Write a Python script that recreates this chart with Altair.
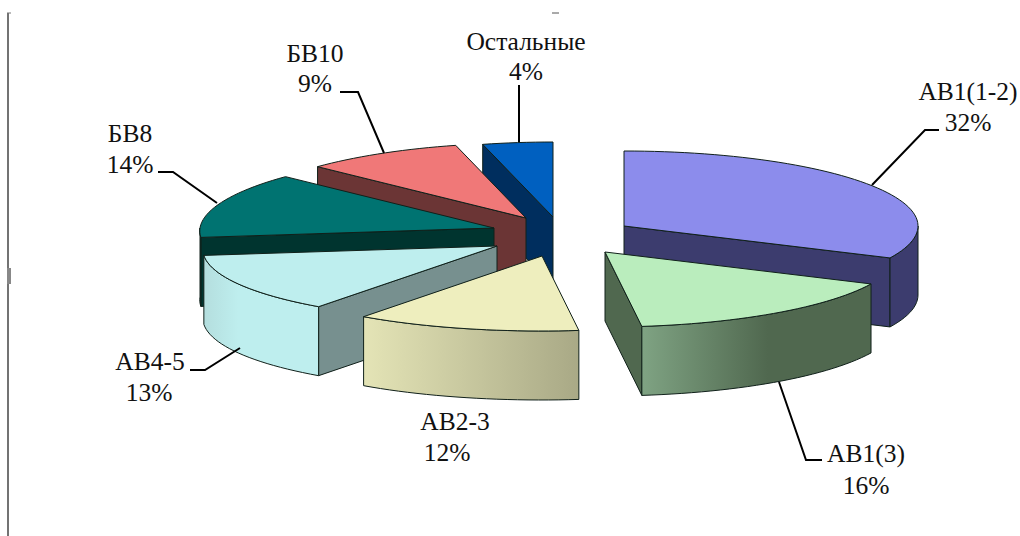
import math
import altair as alt
import pandas as pd

# Field shares, clockwise from twelve o'clock
names = ["АВ1(1-2)", "АВ1(3)", "АВ2-3", "АВ4-5", "БВ8", "БВ10", "Остальные"]
shares = [32, 16, 12, 13, 14, 9, 4]

# Exploded slice apexes on the canvas
apex_x = [624, 605, 542, 497, 494, 526, 553]
apex_y = [226, 252, 256, 246, 228, 218, 217]

top_colors = ["#8C8CEC", "#BAEDBD", "#EEEEBE", "#BEEEEE", "#007371", "#F07878", "#0060C0"]
wall_colors = ["#3C3C6E", "#50684F", "#ACAC88", "#77908F", "#00342F", "#6B3535", "#002E5E"]
rim_stops = [
    [("#3C3C6E", 0), ("#3C3C6E", 1)],
    [("#7FA383", 0), ("#50684F", 0.55), ("#50684F", 1)],
    [("#E4E4B6", 0), ("#A9A986", 1)],
    [("#B4DEDE", 0), ("#BEEEEE", 0.3), ("#BEEEEE", 1)],
    [("#00342F", 0), ("#00342F", 1)],
    [("#6B3535", 0), ("#6B3535", 1)],
    [("#002E5E", 0), ("#002E5E", 1)],
]

RX, RY, DEPTH, PERSPECTIVE = 294, 75, 69, 0.04

label_x = [968, 866, 455, 150, 130, 315, 526]
label_y = [92, 454, 422, 362, 134, 54, 42]
pct_x = [968, 866, 447, 149, 130, 315, 526]
pct_y = [123, 486, 453, 393, 165, 84, 72]

leaders = [
    [(872, 185), (925, 130), (939, 130)],
    [(779, 382), (806, 460), (822, 460)],
    [],
    [(240, 348), (205, 370), (190, 370)],
    [(217, 203), (173, 172), (158, 172)],
    [(384, 153), (358, 92), (340, 92)],
    [(519, 142), (519, 85)],
]

W, H = 1020, 536
x_enc = alt.X("x:Q", scale=alt.Scale(domain=[0, W], nice=False, zero=False), axis=None)
y_enc = alt.Y("y:Q", scale=alt.Scale(domain=[H, 0], nice=False, zero=False), axis=None)


def rim_point(cx, cy, deg):
    t = math.radians(deg)
    # only the left half of the disc is foreshortened by the viewpoint
    f = 1 - PERSPECTIVE * math.cos(t) if math.sin(t) < 0 else 1
    return cx + RX * f * math.sin(t), cy - RY * math.cos(t)


def arc(cx, cy, a, b):
    n = max(2, int(abs(b - a) / 2) + 2)
    return [rim_point(cx, cy, a + (b - a) * i / (n - 1)) for i in range(n)]


def shape(points, fill, stroke="#10201A", width=1.0):
    pts = list(points) + [points[0]]
    df = pd.DataFrame({"x": [p[0] for p in pts], "y": [p[1] for p in pts], "i": range(len(pts))})
    return (
        alt.Chart(df)
        .mark_line(fill=fill, stroke=stroke, strokeWidth=width, strokeJoin="round", opacity=1)
        .encode(x=x_enc, y=y_enc, order="i:Q")
    )


def gradient(stops):
    return alt.LinearGradient(
        gradient="linear",
        x1=0, x2=1, y1=0, y2=0,
        stops=[alt.GradientStop(color=c, offset=o) for c, o in stops],
    )


def slice_layers(k, a, b):
    cx, cy = apex_x[k], apex_y[k]
    out = []
    # radial walls facing the viewer
    for deg, visible in ((a, math.sin(math.radians(a)) < -1e-6), (b, math.sin(math.radians(b)) > 1e-6)):
        if visible:
            p = rim_point(cx, cy, deg)
            out.append(shape([(cx, cy), p, (p[0], p[1] + DEPTH), (cx, cy + DEPTH)], wall_colors[k]))
    # outer rim on the near half of the ellipse
    lo, hi = max(a, 90), min(b, 270)
    if lo < hi:
        edge = arc(cx, cy, lo, hi)
        rim = edge + [(x, y + DEPTH) for x, y in reversed(edge)]
        out.append(shape(rim, gradient(rim_stops[k])))
    # top face
    out.append(shape([(cx, cy)] + arc(cx, cy, a, b), top_colors[k]))
    return out


angles = []
total = 0
for s in shares:
    angles.append((total * 3.6, (total + s) * 3.6))
    total += s

# Painter's order: far slices first, the front slices last
layers = []
for k in [6, 5, 4, 0, 3, 2, 1]:
    layers.extend(slice_layers(k, *angles[k]))

for path in leaders:
    if path:
        df = pd.DataFrame({"x": [p[0] for p in path], "y": [p[1] for p in path], "i": range(len(path))})
        layers.append(
            alt.Chart(df).mark_line(color="#000000", strokeWidth=2).encode(x=x_enc, y=y_enc, order="i:Q")
        )

text_df = pd.DataFrame(
    {
        "x": label_x + pct_x,
        "y": label_y + pct_y,
        "t": names + [f"{s}%" for s in shares],
    }
)
layers.append(
    alt.Chart(text_df)
    .mark_text(font="Liberation Serif", fontSize=25.5, color="#111111", align="center", baseline="middle")
    .encode(x=x_enc, y=y_enc, text="t:N")
)

# Frame remnants: the left rule with its small handles, and the dash at the top
for path, width, color in [
    ([(8, 13), (8, 536)], 1.5, "#444444"),
    ([(7, 13), (11, 13)], 1, "#777777"),
    ([(9, 268), (9, 284)], 4, "#888888"),
    ([(552, 13), (559, 13)], 1, "#555555"),
]:
    df = pd.DataFrame({"x": [p[0] for p in path], "y": [p[1] for p in path], "i": range(len(path))})
    layers.append(alt.Chart(df).mark_line(color=color, strokeWidth=width).encode(x=x_enc, y=y_enc, order="i:Q"))

chart = (
    alt.layer(*layers)
    .properties(width=W, height=H, padding=0, autosize=alt.AutoSizeParams(type="none"), background="#FFFFFF")
    .configure_view(stroke=None)
)
chart.save("out.html", embed_options={"renderer": "svg", "actions": False})
